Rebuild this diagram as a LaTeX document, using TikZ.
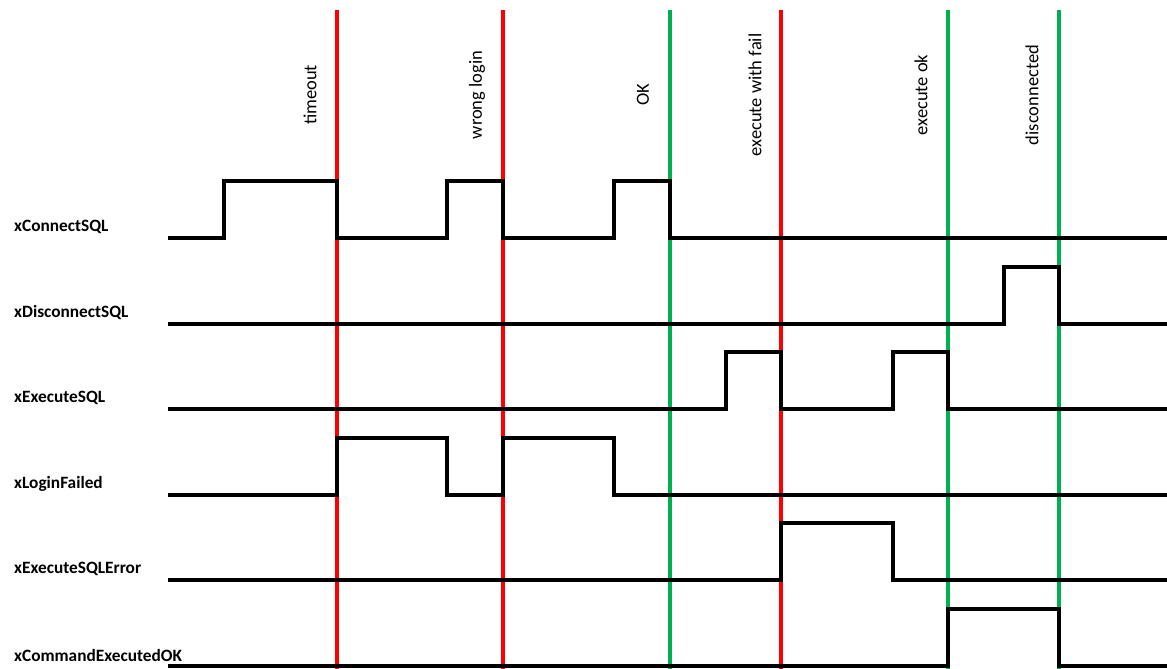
\documentclass[tikz,border=0pt]{standalone}
\usepackage{fontspec}
\setmainfont{Carlito}
\begin{document}
\begin{tikzpicture}[x=1pt,y=-1pt,
  sig/.style={draw=black,line width=3.2pt,line join=miter,line cap=rect},
  failline/.style={draw={rgb,255:red,255;green,0;blue,0},line width=3.2pt},
  okline/.style={draw={rgb,255:red,0;green,176;blue,80},line width=3.2pt},
  rowlabel/.style={anchor=base west,font=\fontsize{17.3}{19}\selectfont\bfseries,inner sep=0pt},
  evlabel/.style={rotate=90,anchor=center,font=\fontsize{18.5}{20}\selectfont,inner sep=0pt}]
\useasboundingbox (0,0) rectangle (1167,669);
% event lines
\foreach \n/\x/\s in {e1/337/failline,e2/503/failline,e3/670/okline,e4/781/failline,e5/948/okline,e6/1059/okline}{
  \coordinate (\n t) at (\x,10);
  \coordinate (\n b) at (\x,669);
  \draw[\s] (\n t) -- (\n b);
}
% event labels
\node[evlabel] (l1) at (310,95) {timeout};
\node[evlabel] (l2) at (477,95) {wrong login};
\node[evlabel] (l3) at (643,95) {OK};
\node[evlabel] (l4) at (755,95) {execute with fail};
\node[evlabel] (l5) at (921,95) {execute ok};
\node[evlabel] (l6) at (1032,95) {disconnected};
% row labels
\node[rowlabel] (r1) at (14,231) {xConnectSQL};
\node[rowlabel] (r2) at (14,317) {xDisconnectSQL};
\node[rowlabel] (r3) at (14,402) {xExecuteSQL};
\node[rowlabel] (r4) at (14,488) {xLoginFailed};
\node[rowlabel] (r5) at (14,573) {xExecuteSQLError};
\node[rowlabel] (r6) at (14,661) {xCommandExecutedOK};
% signals
\draw[sig] (170,238) -- (224,238) -- (224,181) -- (337,181) -- (337,238) -- (447,238) -- (447,181) -- (503,181) -- (503,238) -- (614,238) -- (614,181) -- (670,181) -- (670,238) -- (1167,238);
\draw[sig] (170,324) -- (1004,324) -- (1004,267) -- (1059,267) -- (1059,324) -- (1167,324);
\draw[sig] (170,409) -- (726,409) -- (726,352) -- (781,352) -- (781,409) -- (893,409) -- (893,352) -- (948,352) -- (948,409) -- (1167,409);
\draw[sig] (170,495) -- (337,495) -- (337,438) -- (447,438) -- (447,495) -- (503,495) -- (503,438) -- (614,438) -- (614,495) -- (1167,495);
\draw[sig] (170,580) -- (781,580) -- (781,523) -- (893,523) -- (893,580) -- (1167,580);
\draw[sig] (170,666) -- (948,666) -- (948,609) -- (1059,609) -- (1059,666) -- (1167,666);
\end{tikzpicture}
\end{document}
